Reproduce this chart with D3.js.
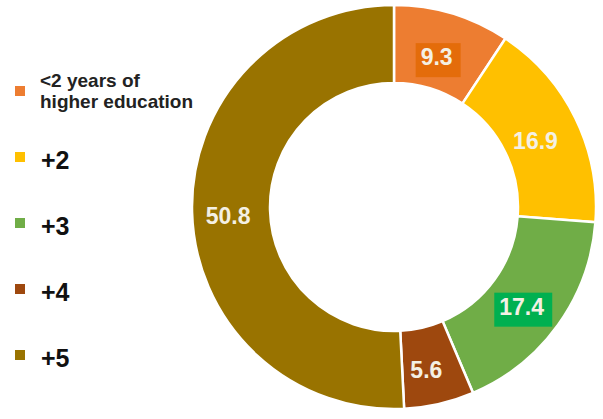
<!DOCTYPE html>
<html>
<head>
<meta charset="utf-8">
<script src="https://cdn.jsdelivr.net/npm/d3@7"></script>
<style>
    html, body { margin: 0; padding: 0; background: #fff; }
    svg { display: block; font-family: Arial, 'Liberation Sans', sans-serif; }
</style>
</head>
<body>
<div id="chart"></div>
<script>
// data (shares in %)
const categories = ['<2 years of higher education', '+2', '+3', '+4', '+5'];
const legendLines = [['<2 years of', 'higher education'], ['+2'], ['+3'], ['+4'], ['+5']];
const shares = [9.3, 16.9, 17.4, 5.6, 50.8];

const sliceColors = ['#ED7D31', '#FFC000', '#70AD47', '#9E480E', '#997300'];
const labelBoxes = { 0: '#E46C0A', 2: '#00B050' };

const width = 603, height = 419;
const cx = 394, cy = 207;
const outerR = 202, innerR = 124;

const svg = d3.select('#chart')
    .append('svg')
    .attr('width', width)
    .attr('height', height);

const g = svg.append('g')
    .attr('transform', `translate(${cx},${cy})`);

const pie = d3.pie().sort(null).value(d => d);
const arcs = pie(shares);

const arc = d3.arc().innerRadius(innerR).outerRadius(outerR);
const labelArc = d3.arc().innerRadius(162).outerRadius(162);

g.selectAll('path.slice')
    .data(arcs)
    .enter()
    .append('path')
    .attr('class', 'slice')
    .attr('d', arc)
    .attr('fill', (d, i) => sliceColors[i])
    .attr('stroke', '#fff')
    .attr('stroke-width', 2.5);

const labels = g.selectAll('g.label')
    .data(arcs)
    .enter()
    .append('g')
    .attr('class', 'label')
    .attr('transform', d => {
        const [x, y] = labelArc.centroid(d);
        return `translate(${x - 4},${y + 5})`;
    });

labels.append('text')
    .attr('text-anchor', 'middle')
    .attr('dy', '0.36em')
    .style('font-size', '23px')
    .style('font-weight', 'bold')
    .attr('fill', '#F4F0E4')
    .text(d => d.data.toFixed(1));

labels.each(function(d, i) {
    if (!labelBoxes[i]) return;
    const sel = d3.select(this);
    const bb = sel.select('text').node().getBBox();
    sel.insert('rect', 'text')
        .attr('x', bb.x - 5)
        .attr('y', bb.y - 1)
        .attr('width', bb.width + 13)
        .attr('height', bb.height + 8)
        .attr('fill', labelBoxes[i]);
});

// legend
const legend = svg.append('g')
    .attr('class', 'legend')
    .attr('transform', 'translate(15, 91)');

categories.forEach((c, i) => {
    const item = legend.append('g')
        .attr('transform', `translate(0, ${i * 66})`);

    item.append('rect')
        .attr('x', 0)
        .attr('y', -5)
        .attr('width', 10)
        .attr('height', 10)
        .attr('fill', sliceColors[i]);

    const lines = legendLines[i];
    if (lines.length > 1) {
        const t = item.append('text')
            .attr('x', 25)
            .style('font-size', '19px')
            .style('font-weight', 'bold')
            .attr('fill', '#222');
        lines.forEach((ln, j) => {
            t.append('tspan')
                .attr('x', 25)
                .attr('y', -4 + j * 21)
                .text(ln);
        });
    } else {
        item.append('text')
            .attr('x', 26)
            .attr('y', 12)
            .style('font-size', '25px')
            .style('font-weight', 'bold')
            .attr('fill', '#111')
            .text(lines[0]);
    }
});
</script>
</body>
</html>
